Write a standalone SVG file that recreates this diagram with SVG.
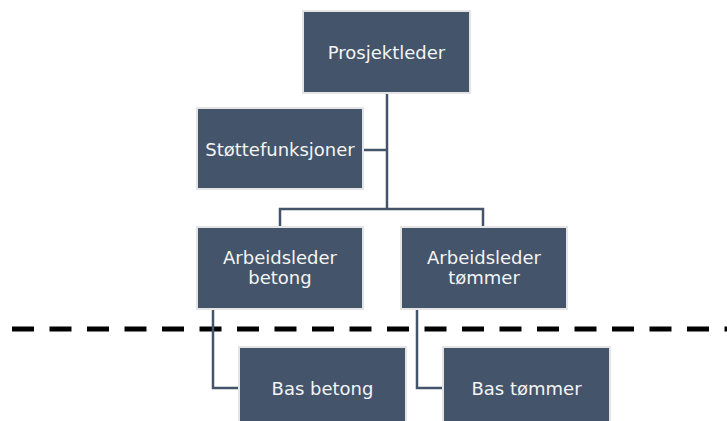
<svg xmlns="http://www.w3.org/2000/svg" width="727" height="421" viewBox="0 0 727 421">
<style>
.box{fill:#44546a;stroke:#e4e4e4;stroke-width:2}
.t{font-family:"DejaVu Sans",Verdana,sans-serif;font-size:18px;fill:#f4f4f4;text-anchor:middle}
.c{fill:none;stroke:#44546a;stroke-width:2.5}
</style>
<rect width="727" height="421" fill="#ffffff"/>
<line x1="12" y1="329" x2="727" y2="329" stroke="#000" stroke-width="5" stroke-dasharray="22 15.5"/>
<g id="connectors">
<path class="c" d="M387 93 V209"/>
<path class="c" d="M363 150 H387"/>
<path class="c" d="M280 227 V209 H483 V227"/>
<path class="c" d="M213 309 V388 H239"/>
<path class="c" d="M417 309 V388 H443"/>
</g>
<g id="prosjektleder"><rect class="box" x="303" y="11" width="167" height="82"/><text class="t" x="386.5" y="59">Prosjektleder</text></g>
<g id="stottefunksjoner"><rect class="box" x="197" y="108" width="166" height="81"/><text class="t" x="280" y="156">Støttefunksjoner</text></g>
<g id="arbeidsleder-betong"><rect class="box" x="197" y="227" width="166" height="82"/><text class="t" x="280" y="264">Arbeidsleder</text><text class="t" x="280" y="284">betong</text></g>
<g id="arbeidsleder-tommer"><rect class="box" x="401" y="227" width="166" height="82"/><text class="t" x="484" y="264">Arbeidsleder</text><text class="t" x="484" y="284">tømmer</text></g>
<g id="bas-betong"><rect class="box" x="239" y="347" width="167" height="82"/><text class="t" x="322.5" y="395">Bas betong</text></g>
<g id="bas-tommer"><rect class="box" x="443" y="347" width="167" height="82"/><text class="t" x="526.5" y="395">Bas tømmer</text></g>
</svg>
